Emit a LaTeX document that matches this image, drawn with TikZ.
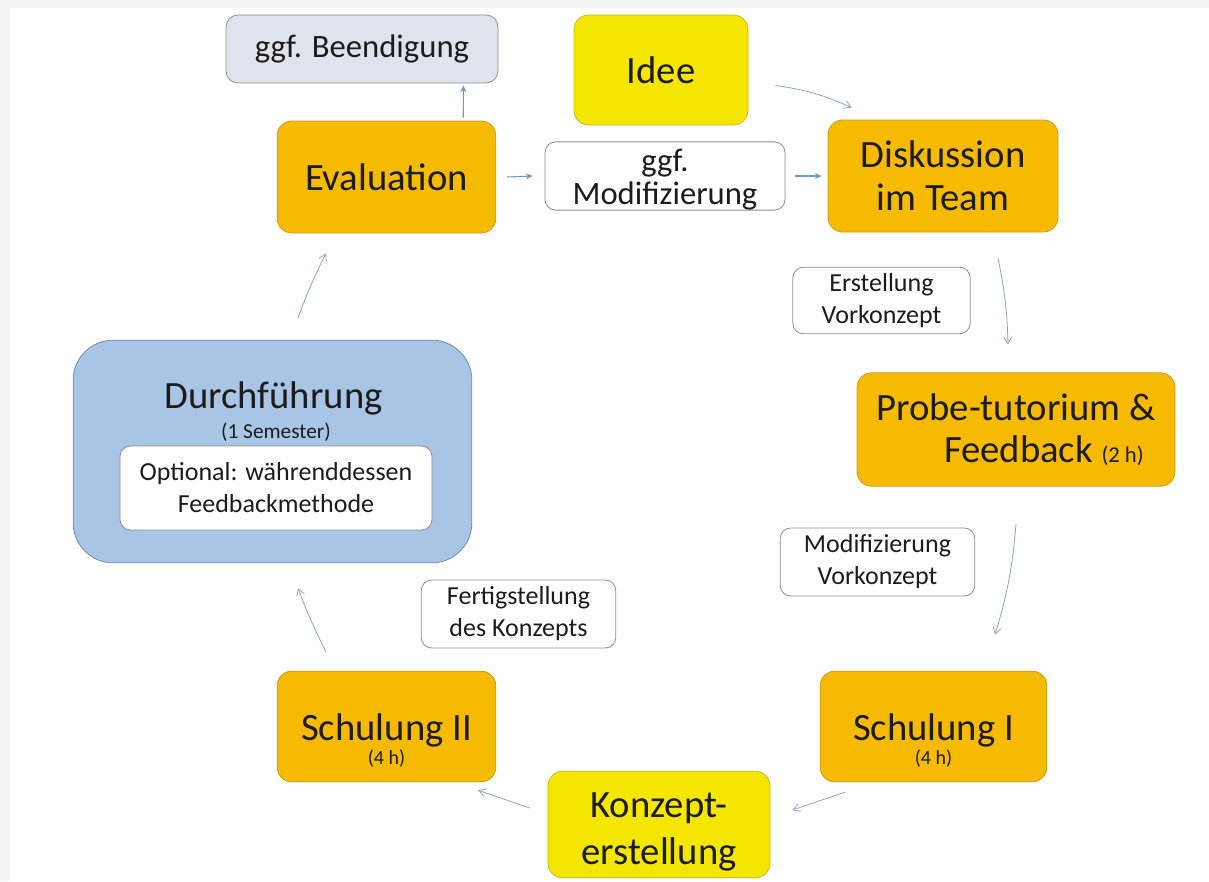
\documentclass[tikz,border=0pt]{standalone}
\usepackage{fontspec}
\setmainfont{Carlito}
\usetikzlibrary{arrows.meta, positioning, calc}
\definecolor{pagegrey}{HTML}{F3F3F3}
\definecolor{inkblack}{HTML}{1C1C1C}
\definecolor{orangefill}{HTML}{F6BB00}
\definecolor{orangeline}{HTML}{C99A1E}
\definecolor{yellowfill}{HTML}{F5E600}
\definecolor{yellowline}{HTML}{C4BA22}
\definecolor{bluefill}{HTML}{A8C5E6}
\definecolor{blueline}{HTML}{7189AC}
\definecolor{greyfill}{HTML}{DEE3EC}
\definecolor{greyline}{HTML}{8A8F99}
\definecolor{noteline}{HTML}{8C8C8C}
\definecolor{flowblue}{HTML}{6B9BC8}
\definecolor{curveblue}{HTML}{8DA5BF}

\newcommand\bigfont{\fontsize{29}{32}\selectfont}
\newcommand\konzfont{\fontsize{29}{35}\selectfont}
\newcommand\midfont{\fontsize{24.5}{25}\selectfont}
\newcommand\notefont{\fontsize{19.5}{24}\selectfont}
\newcommand\semfont{\fontsize{16}{18}\selectfont}
\newcommand\hourfont{\fontsize{15}{17}\selectfont}
\newcommand\probefont{\fontsize{17}{19}\selectfont}

\tikzset{
box/.style={draw, rounded corners=11pt, align=center, inner sep=0pt, text=inkblack, line width=0.6pt},
orangebox/.style={box, fill=orangefill, draw=orangeline, font=\bigfont, minimum width=164pt, minimum height=84pt},
yellowbox/.style={box, fill=yellowfill, draw=yellowline, font=\bigfont},
greybox/.style={box, fill=greyfill, draw=greyline, rounded corners=9pt, font=\midfont},
notebox/.style={box, fill=white, draw=noteline, rounded corners=8pt, font=\notefont, minimum width=146pt, minimum height=51pt},
bluebox/.style={box, fill=bluefill, draw=blueline, rounded corners=30pt},
flow/.style={->, >={Stealth[length=5pt,width=4.5pt]}, draw=flowblue, line width=0.8pt},
curveflow/.style={->, >={Straight Barb[length=5pt,width=6pt]}, draw=curveblue, line width=0.6pt},
}

\begin{document}
\begin{tikzpicture}[x=0.75pt, y=-0.75pt]
% page
\fill[pagegrey] (0,0) rectangle (1209,881);
\fill[white] (10,8) rectangle (1209,881);
\useasboundingbox (0,0) rectangle (1209,881);

% top row
\node[greybox, minimum width=204pt, minimum height=51pt] (beend) at (362,49) {ggf. Beendigung};
\node[yellowbox, minimum width=130.5pt, minimum height=82.5pt] (idee) at (661,70) {Idee};
\node[orangebox] (eval) at (386.5,177) {Evaluation};
\node[notebox, minimum width=180pt, font=\midfont] (modif) at (665,176) {\rule{0pt}{22pt}ggf.\\Modifizierung};
\node[orangebox, minimum width=172.5pt] (disk) at (943,176) {Diskussion\\im Team};

% right side
\node[notebox, minimum width=133pt, minimum height=50pt] (erst) at (881.5,300.5) {Erstellung\\Vorkonzept};
\node[orangebox, minimum width=238.5pt, minimum height=85pt, align=right] (probe) at (1016,429.5) {Probe-tutorium \&\\Feedback {\probefont(2 h)}\hspace*{9pt}};
\node[notebox] (modvk) at (877.5,562) {Modifizierung\\Vorkonzept};

% bottom row
\node[orangebox, minimum width=170pt, minimum height=83pt] (schulA) at (933.5,726.5) {\rule{0pt}{41.5pt}Schulung I\\[-14pt]{\hourfont(4 h)}};
\node[yellowbox, minimum width=166.5pt, minimum height=80pt, font=\konzfont] (konz) at (659,824.5) {\rule{0pt}{30pt}Konzept-\\erstellung};
\node[orangebox, minimum height=83pt] (schulB) at (386.5,726.5) {\rule{0pt}{41.5pt}Schulung II\\[-14pt]{\hourfont(4 h)}};
\node[notebox] (fertig) at (518.5,614) {Fertigstellung\\des Konzepts};

% left side
\node[bluebox, minimum width=299pt, minimum height=167pt] (durch) at (272.5,451.5) {};
\node[font=\bigfont, text=inkblack, inner sep=0pt] (durchtitle) at (273.5,398) {Durchführung};
\node[font=\semfont, text=inkblack, inner sep=0pt] (sem) at (276,432) {(1 Semester)};
\node[notebox, minimum width=234pt, minimum height=63pt] (opt) at (276,488) {Optional: währenddessen\\Feedbackmethode};

% straight arrows
\draw[flow] ($(eval.north east)+(-33,-3)$) -- ($(beend.south east)+(-35,2)$);
\draw[flow] ($(eval.east)+(11,0)$) -- ($(modif.west)+(-12,0)$);
\draw[flow] ($(modif.east)+(10,0)$) -- ($(disk.west)+(-6,0)$);

% curved arrows
\draw[curveflow] ($(idee.south east)+(27,-40)$) to[bend left=8] ($(disk.north west)+(24,-12)$);
\draw[curveflow] ($(disk.south)+(55,26)$) to[bend left=5] ($(probe.north)+(-8,-28)$);
\draw[curveflow] ($(probe.south)+(0,37)$) to[bend left=6] ($(schulA.north)+(61.5,-36)$);
\draw[curveflow] ($(schulA.south west)+(25,10)$) to ($(konz.east)+(22,-14.5)$);
\draw[curveflow] ($(konz.west)+(-18,-16.5)$) to ($(schulB.south east)+(-18,8)$);
\draw[curveflow] ($(schulB.north)+(-60.5,-19)$) to[bend left=3] ($(durch.south)+(25.5,25)$);
\draw[curveflow] ($(durch.north)+(25.5,-22)$) to[bend left=3] ($(eval.south)+(-60.5,20)$);
\end{tikzpicture}
\end{document}
